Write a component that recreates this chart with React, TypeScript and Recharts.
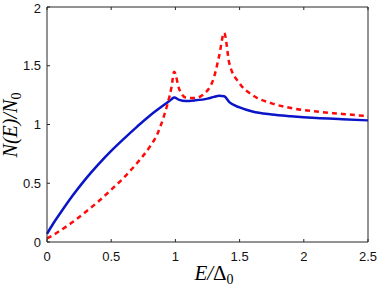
import React from 'react';
import { LineChart, Line, XAxis, YAxis } from 'recharts';

// energia normalizada E/Δ0
const energy = [
  0, 0.05, 0.1, 0.2, 0.3, 0.4, 0.5, 0.6, 0.7, 0.8, 0.86, 0.91, 0.94, 0.97, 0.99,
  1.03, 1.08, 1.15, 1.25, 1.3, 1.34, 1.38, 1.42, 1.5, 1.6, 1.75, 1.9, 2.1, 2.3, 2.5,
];

// curva azul (solida)
const dosSolid = [
  0.07, 0.16, 0.24, 0.395, 0.535, 0.66, 0.775, 0.88, 0.98, 1.075, 1.125, 1.165, 1.19, 1.215, 1.23,
  1.21, 1.2, 1.205, 1.22, 1.235, 1.245, 1.24, 1.19, 1.145, 1.11, 1.085, 1.07, 1.055, 1.045, 1.035,
];

// curva roja (punteada)
const dosDashed = [
  0.03, 0.06, 0.095, 0.17, 0.255, 0.345, 0.445, 0.55, 0.67, 0.81, 0.92, 1.07, 1.18, 1.32, 1.45,
  1.3, 1.23, 1.225, 1.29, 1.4, 1.58, 1.78, 1.52, 1.35, 1.25, 1.18, 1.14, 1.11, 1.09, 1.07,
];

const xTicks = [0, 0.5, 1, 1.5, 2, 2.5];
const yTicks = [0, 0.5, 1, 1.5, 2];

const data = energy.map((e, i) => ({ e, solid: dosSolid[i], dashed: dosDashed[i] }));

const axisColor = '#262626';
const tickFont = { fontFamily: 'Liberation Sans, Arial, sans-serif', fontSize: 13, fill: '#111' };
const labelFont = 'Liberation Serif, Times New Roman, serif';

const formatTick = (v: number) => String(v);
const noLabel = () => <g />;

function YLabel() {
  return (
    <text
      x={0}
      y={0}
      transform="translate(17, 125) rotate(-90)"
      textAnchor="middle"
      fontFamily={labelFont}
      fontStyle="italic"
      fontSize={20}
      fill="#000"
    >
      N(E)/N
      <tspan fontStyle="normal" fontSize={14} dy={4}>0</tspan>
    </text>
  );
}

function XLabel() {
  return (
    <text
      x={214}
      y={280}
      textAnchor="middle"
      fontFamily={labelFont}
      fontStyle="italic"
      fontSize={21}
      fill="#000"
    >
      E/
      <tspan fontStyle="normal">Δ</tspan>
      <tspan fontStyle="normal" fontSize={14} dy={4}>0</tspan>
    </text>
  );
}

export default function App() {
  return (
    <div style={{ position: 'absolute', left: 0, top: 0, width: 382, height: 286, background: '#fff' }}>
      <LineChart width={382} height={286} data={data} margin={{ top: 6, right: 13, bottom: 0, left: 0 }}>
        <XAxis
          xAxisId="bottom"
          dataKey="e"
          type="number"
          domain={[0, 2.5]}
          ticks={xTicks}
          tickFormatter={formatTick}
          height={44}
          tickSize={-3}
          tickMargin={13}
          tick={tickFont}
          tickLine={{ stroke: axisColor }}
          stroke={axisColor}
          label={<XLabel />}
        />
        <XAxis
          xAxisId="top"
          orientation="top"
          dataKey="e"
          type="number"
          domain={[0, 2.5]}
          ticks={xTicks}
          height={1}
          tickSize={-3}
          tick={noLabel}
          tickLine={{ stroke: axisColor }}
          stroke={axisColor}
        />
        <YAxis
          yAxisId="left"
          type="number"
          domain={[0, 2]}
          ticks={yTicks}
          tickFormatter={formatTick}
          width={47}
          tickSize={-3}
          tickMargin={9}
          tick={tickFont}
          tickLine={{ stroke: axisColor }}
          stroke={axisColor}
          label={<YLabel />}
        />
        <YAxis
          yAxisId="right"
          orientation="right"
          type="number"
          domain={[0, 2]}
          ticks={yTicks}
          width={1}
          tickSize={-3}
          tick={noLabel}
          tickLine={{ stroke: axisColor }}
          stroke={axisColor}
        />
        <Line
          xAxisId="bottom"
          yAxisId="left"
          type="monotone"
          dataKey="solid"
          stroke="#0a14c8"
          strokeWidth={2.5}
          dot={false}
          isAnimationActive={false}
        />
        <Line
          xAxisId="bottom"
          yAxisId="left"
          type="monotone"
          dataKey="dashed"
          stroke="#ff0a0a"
          strokeWidth={2.5}
          strokeDasharray="5 4"
          dot={false}
          isAnimationActive={false}
        />
      </LineChart>
    </div>
  );
}
